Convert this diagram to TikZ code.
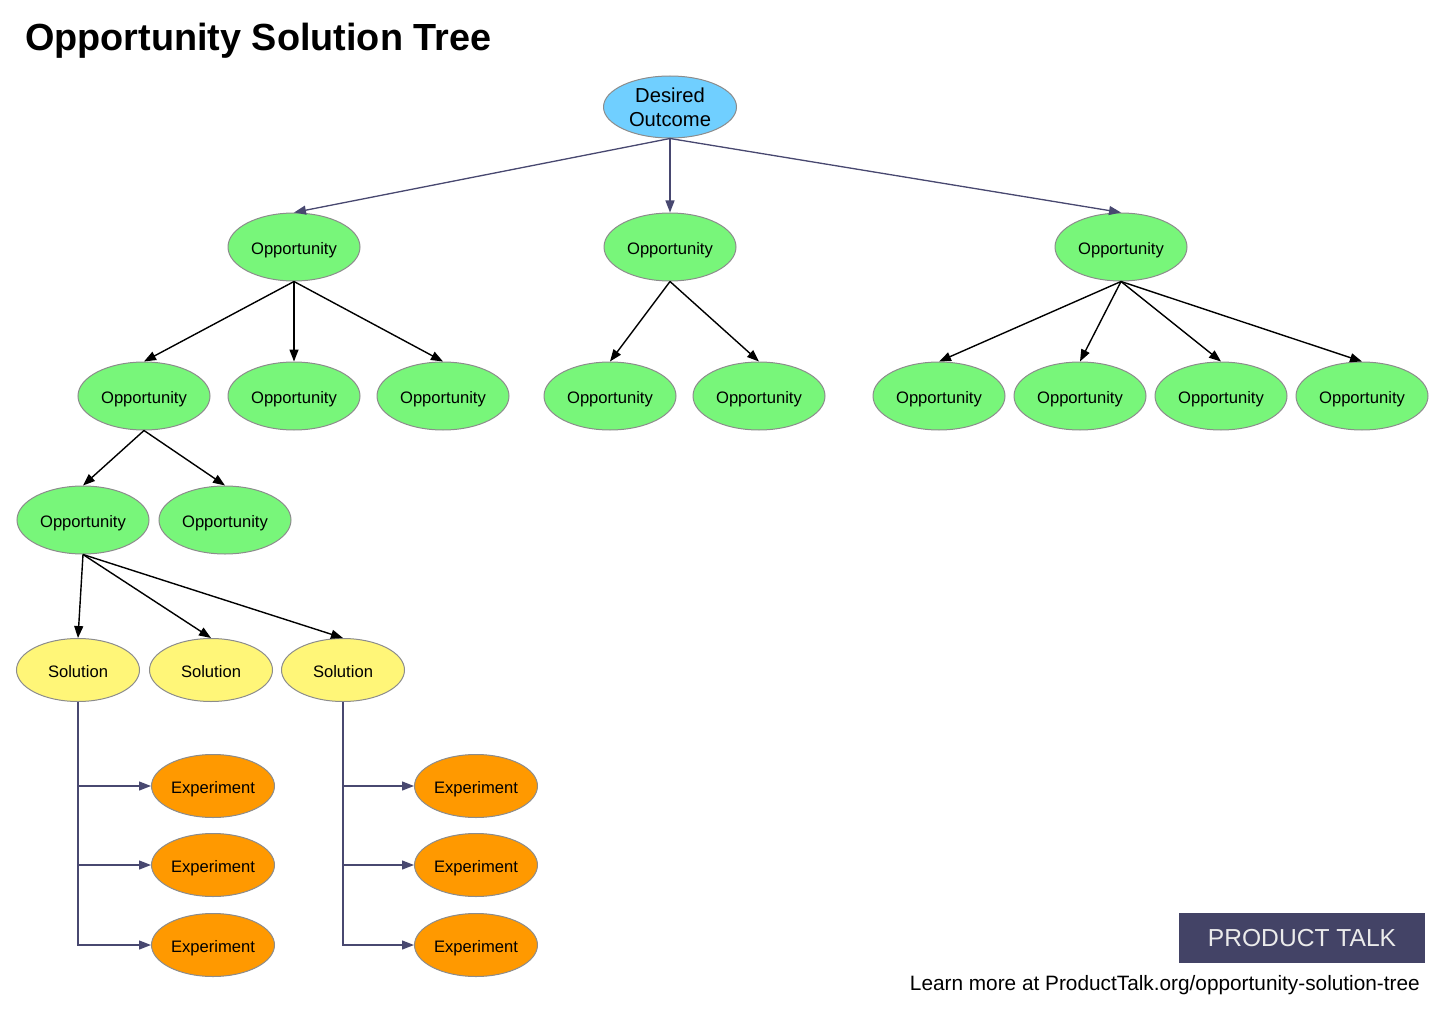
\documentclass[tikz,border=0pt]{standalone}
\usepackage{fontspec}
\setmainfont{Liberation Sans}
\usetikzlibrary{shapes.geometric,arrows.meta}
\definecolor{outblue}{RGB}{112,207,255}
\definecolor{oppgreen}{RGB}{120,246,122}
\definecolor{solyellow}{RGB}{255,246,120}
\definecolor{exporange}{RGB}{255,153,0}
\definecolor{slate}{RGB}{72,72,112}
\definecolor{logoblue}{RGB}{67,67,102}
\definecolor{rimgray}{RGB}{140,140,140}
\tikzset{
  bubble/.style={ellipse, draw=rimgray, line width=1pt, inner sep=0pt, font=\fontsize{16.6}{20}\selectfont},
  outc/.style={ellipse, draw=rimgray, line width=1pt, inner sep=0pt, fill=outblue, minimum width=133pt, minimum height=62pt, font=\fontsize{20.2}{24.4}\selectfont, align=center},
  lbl/.style={text height=19pt, text depth=3.5pt},
  opp/.style={bubble, lbl, fill=oppgreen, minimum width=132pt, minimum height=68pt},
  sol/.style={bubble, lbl, fill=solyellow, minimum width=123pt, minimum height=63pt},
  expt/.style={bubble, lbl, fill=exporange, minimum width=123pt, minimum height=63pt},
  tip/.style={-{Triangle[length=12pt,width=9pt]}},
  topedge/.style={tip, draw=slate, fill=slate, line width=1.3pt},
  blackedge/.style={tip, draw=black, line width=1.4pt},
  expedge/.style={tip, draw=slate, line width=1.3pt},
}
\begin{document}
\begin{tikzpicture}[x=1pt,y=-1pt]
\useasboundingbox (0,0) rectangle (1456,1027);
\node[anchor=west, inner sep=0pt, font=\fontsize{37.8}{40}\selectfont\bfseries] (title) at (25,41) {Opportunity Solution Tree};

\node[outc] (do) at (670,107) {Desired\\Outcome};

\node[opp] (a) at (294,247) {Opportunity};
\node[opp] (b) at (670,247) {Opportunity};
\node[opp] (c) at (1121,247) {Opportunity};

\node[opp] (a1) at (144,396) {Opportunity};
\node[opp] (a2) at (294,396) {Opportunity};
\node[opp] (a3) at (443,396) {Opportunity};
\node[opp] (b1) at (610,396) {Opportunity};
\node[opp] (b2) at (759,396) {Opportunity};
\node[opp] (c1) at (939,396) {Opportunity};
\node[opp] (c2) at (1080,396) {Opportunity};
\node[opp] (c3) at (1221,396) {Opportunity};
\node[opp] (c4) at (1362,396) {Opportunity};

\node[opp] (d1) at (83,520) {Opportunity};
\node[opp] (d2) at (225,520) {Opportunity};

\node[sol] (s1) at (78,670) {Solution};
\node[sol] (s2) at (211,670) {Solution};
\node[sol] (s3) at (343,670) {Solution};

\node[expt] (e1) at (213,786) {Experiment};
\node[expt] (e2) at (213,865) {Experiment};
\node[expt] (e3) at (213,945) {Experiment};
\node[expt] (f1) at (476,786) {Experiment};
\node[expt] (f2) at (476,865) {Experiment};
\node[expt] (f3) at (476,945) {Experiment};

\foreach \t in {a,b,c} \draw[topedge] (do.south) -- (\t.north);
\foreach \t in {a1,a2,a3} \draw[blackedge] (a.south) -- (\t.north);
\foreach \t in {b1,b2} \draw[blackedge] (b.south) -- (\t.north);
\foreach \t in {c1,c2,c3,c4} \draw[blackedge] (c.south) -- (\t.north);
\foreach \t in {d1,d2} \draw[blackedge] (a1.south) -- (\t.north);
\foreach \t in {s1,s2,s3} \draw[blackedge] (d1.south) -- (\t.north);
\foreach \t in {e1,e2,e3} \draw[expedge] (s1.south) |- (\t.west);
\foreach \t in {f1,f2,f3} \draw[expedge] (s3.south) |- (\t.west);

\node[fill=logoblue, text=white!92!black, minimum width=246pt, minimum height=50pt, inner sep=0pt, font=\fontsize{24.6}{28}\selectfont] (logo) at (1302,938) {PRODUCT TALK};
\node[anchor=east, inner sep=0pt, font=\fontsize{20.8}{24}\selectfont] (learn) at (1420,985) {Learn more at ProductTalk.org/opportunity-solution-tree};
\end{tikzpicture}
\end{document}
